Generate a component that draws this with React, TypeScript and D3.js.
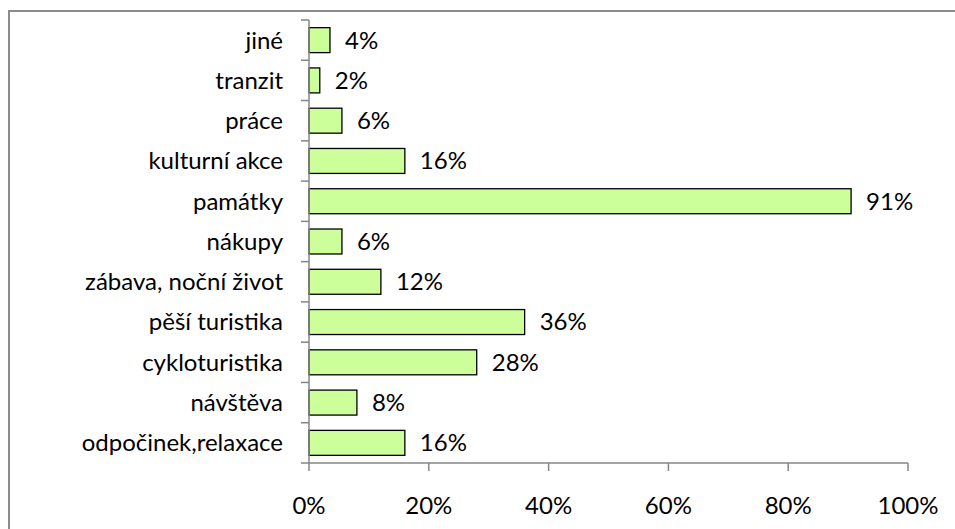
import * as d3 from 'd3';

const categories = [
  'jiné',
  'tranzit',
  'práce',
  'kulturní akce',
  'památky',
  'nákupy',
  'zábava, noční život',
  'pěší turistika',
  'cykloturistika',
  'návštěva',
  'odpočinek,relaxace',
];
// share of respondents, %
const values = [3.5, 1.8, 5.5, 16, 90.5, 5.5, 12, 36, 28, 8, 16];
const xTicks = [0, 20, 40, 60, 80, 100];

export default function App() {
  const W = 955;
  const H = 529;
  // plot area
  const left = 309;
  const right = 908;
  const top = 20;
  const bottom = 463;

  const x = d3.scaleLinear().domain([0, 100]).range([left, right]);
  const y = d3
    .scaleBand<string>()
    .domain(categories)
    .range([top, bottom])
    .paddingInner(0.38)
    .paddingOuter(0.19);
  const step = (bottom - top) / categories.length;

  const font = 'Lato, "Open Sans", sans-serif';
  const fs = 24;
  const axisCol = '#868686';

  return (
    <svg
      width={W}
      height={H}
      style={{ position: 'absolute', left: 0, top: 0, background: '#fff' }}
    >
      {/* chart frame, runs past the right and bottom edges */}
      <rect x={9} y={11} width={W + 20} height={H + 20} fill="none" stroke="#8c8c8c" strokeWidth={2} />

      {/* bars */}
      {categories.map((c, i) => (
        <rect
          key={c}
          x={x(0)}
          y={y(c)}
          width={x(values[i]) - x(0)}
          height={y.bandwidth()}
          fill="#ccff99"
          stroke="#000"
          strokeWidth={1.3}
        />
      ))}

      {/* y axis */}
      <line x1={left} x2={left} y1={top} y2={bottom} stroke={axisCol} strokeWidth={1.5} />
      {d3.range(categories.length + 1).map((i) => (
        <line
          key={i}
          x1={left - 8}
          x2={left}
          y1={top + i * step}
          y2={top + i * step}
          stroke={axisCol}
          strokeWidth={1.5}
        />
      ))}
      {categories.map((c) => (
        <text
          key={c}
          x={left - 26}
          y={(y(c) ?? 0) + y.bandwidth() / 2}
          dy="0.35em"
          textAnchor="end"
          fontFamily={font}
          fontSize={fs}
          fill="#000"
        >
          {c}
        </text>
      ))}

      {/* x axis */}
      <line x1={left} x2={right} y1={bottom} y2={bottom} stroke={axisCol} strokeWidth={1.5} />
      {xTicks.map((t) => (
        <g key={t}>
          <line x1={x(t)} x2={x(t)} y1={bottom} y2={bottom + 8} stroke={axisCol} strokeWidth={1.5} />
          <text
            x={x(t)}
            y={505.5}
            dy="0.35em"
            textAnchor="middle"
            fontFamily={font}
            fontSize={fs}
            fill="#000"
          >
            {t}%
          </text>
        </g>
      ))}

      {/* value labels */}
      {categories.map((c, i) => (
        <text
          key={c}
          x={x(values[i]) + 15}
          y={(y(c) ?? 0) + y.bandwidth() / 2}
          dy="0.35em"
          fontFamily={font}
          fontSize={fs}
          fill="#000"
        >
          {Math.round(values[i])}%
        </text>
      ))}
    </svg>
  );
}
